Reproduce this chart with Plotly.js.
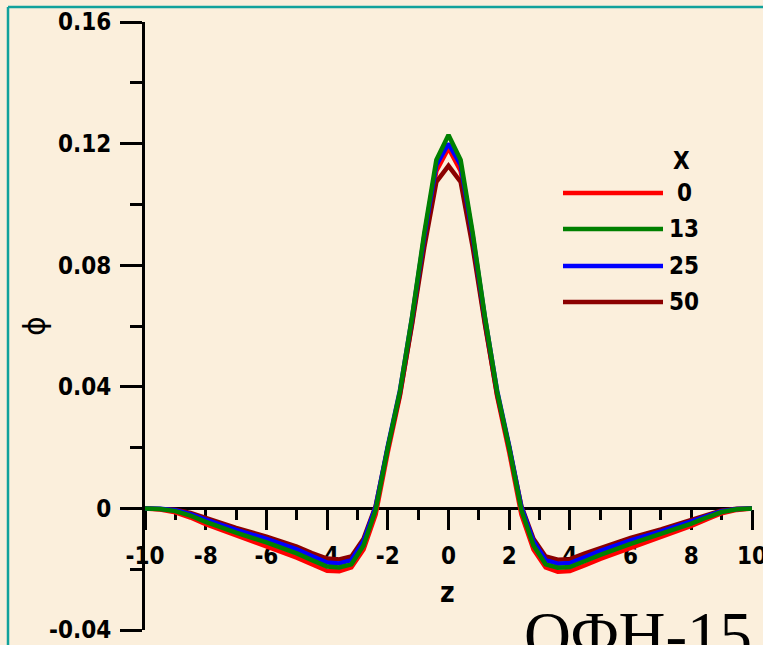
<!DOCTYPE html>
<html>
<head>
<meta charset="utf-8">
<script src="https://cdn.plot.ly/plotly-3.0.1.min.js"></script>
<style>
html,body{margin:0;padding:0;background:#FBEFDC;}
#chart{width:763px;height:645px;}
</style>
</head>
<body>
<div id="chart"></div>
<script>
// ---- data ----
const z = [-10, -9.5, -9, -8.5, -8, -7, -6, -5, -4.5, -4, -3.6, -3.2, -2.8, -2.4, -2.0, -1.6, -1.2, -0.8, -0.4, 0,
           0.4, 0.8, 1.2, 1.6, 2.0, 2.4, 2.8, 3.2, 3.6, 4, 4.5, 5, 6, 7, 8, 8.5, 9, 9.5, 10];

const phiX0 = [0, -0.0004, -0.0013, -0.0030, -0.0052, -0.0090, -0.0125, -0.0162, -0.0185, -0.0205, -0.0207, -0.0194, -0.0135, -0.0020, 0.0185, 0.0370, 0.0612, 0.0880, 0.1110, 0.1185,
               0.1110, 0.0880, 0.0612, 0.0370, 0.0185, -0.0020, -0.0135, -0.0194, -0.0208, -0.0206, -0.0187, -0.0166, -0.0130, -0.0095, -0.0058, -0.0036, -0.0016, -0.0005, 0];
const phiX13 = [0, -0.0002, -0.0009, -0.0024, -0.0044, -0.0080, -0.0112, -0.0148, -0.0170, -0.0191, -0.0194, -0.0184, -0.0122, -0.0005, 0.0200, 0.0385, 0.0630, 0.0905, 0.1146, 0.1228,
                0.1146, 0.0905, 0.0630, 0.0385, 0.0200, -0.0005, -0.0122, -0.0184, -0.0195, -0.0193, -0.0173, -0.0153, -0.0117, -0.0085, -0.0050, -0.0030, -0.0012, -0.0003, 0];
const phiX25 = [0, -0.0001, -0.0006, -0.0019, -0.0037, -0.0071, -0.0100, -0.0135, -0.0157, -0.0178, -0.0181, -0.0170, -0.0108, 0.0005, 0.0205, 0.0388, 0.0628, 0.0895, 0.1130, 0.1200,
                0.1130, 0.0895, 0.0628, 0.0388, 0.0205, 0.0005, -0.0108, -0.0170, -0.0182, -0.0180, -0.0160, -0.0140, -0.0105, -0.0076, -0.0043, -0.0025, -0.0009, -0.0002, 0];
const phiX50 = [0, -0.0001, -0.0004, -0.0015, -0.0032, -0.0064, -0.0093, -0.0126, -0.0147, -0.0165, -0.0168, -0.0158, -0.0100, 0.0008, 0.0200, 0.0375, 0.0605, 0.0858, 0.1074, 0.1127,
                0.1074, 0.0858, 0.0605, 0.0375, 0.0200, 0.0008, -0.0100, -0.0158, -0.0169, -0.0167, -0.0148, -0.0130, -0.0097, -0.0069, -0.0038, -0.0021, -0.0007, -0.0001, 0];

const seriesNames = ['0', '13', '25', '50'];
const seriesValues = [phiX0, phiX13, phiX25, phiX50];
const seriesColors = ['#FF0000', '#008000', '#0000FF', '#8B0000'];
const drawOrder = [0, 3, 2, 1];   // red below, green on top

const xTickVals = [-10, -8, -6, -4, -2, 0, 2, 4, 6, 8, 10];
const xTickText = ['-10', '-8', '-6', '-4', '-2', '0', '2', '4', '6', '8', '10'];
const yTickVals = [-0.04, 0, 0.04, 0.08, 0.12, 0.16];
const yTickText = ['-0.04', '0', '0.04', '0.08', '0.12', '0.16'];

// ---- layout helpers (pixel -> paper) ----
const W = 763, H = 645;
const M = {l: 145, r: 11, t: 22, b: 15};
const PW = W - M.l - M.r, PH = H - M.t - M.b;
const px = v => (v - M.l) / PW;
const py = v => (H - M.b - v) / PH;

const tickFont = {family: 'Liberation Sans Narrow, DejaVu Sans Condensed, Roboto, Arial Narrow, sans-serif', size: 24, color: '#000', weight: 'bold'};

const traces = drawOrder.map(i => ({
  x: z, y: seriesValues[i], type: 'scatter', mode: 'lines', name: seriesNames[i],
  line: {color: seriesColors[i], width: 4.5}, showlegend: false, hoverinfo: 'skip'
}));

const shapes = [
  // teal frame
  {type: 'line', xref: 'paper', yref: 'paper', x0: px(8), x1: px(8), y0: py(7), y1: py(H + 5), line: {color: '#12A29C', width: 2.5}},
  {type: 'line', xref: 'paper', yref: 'paper', x0: px(8), x1: px(W + 5), y0: py(7), y1: py(7), line: {color: '#12A29C', width: 2.5}}
];
const legendY = [193, 229, 266, 302];
const annotations = [
  {text: 'X', xref: 'paper', yref: 'paper', x: px(681), y: py(161), xanchor: 'center', yanchor: 'middle', showarrow: false, font: tickFont},
  {text: 'z', xref: 'paper', yref: 'paper', x: px(447), y: py(592), xanchor: 'center', yanchor: 'middle', showarrow: false,
   font: {family: tickFont.family, size: 28, color: '#000', weight: 'bold'}},
  {text: 'ϕ', xref: 'paper', yref: 'paper', x: px(34), y: py(326), xanchor: 'center', yanchor: 'middle', showarrow: false, textangle: -90,
   font: {family: 'DejaVu Sans, sans-serif', size: 30, color: '#000'}},
  {text: 'ΟΦΗ-15', xref: 'paper', yref: 'paper', x: px(754), y: py(597), xanchor: 'right', yanchor: 'top', showarrow: false,
   font: {family: 'Liberation Serif, DejaVu Serif, serif', size: 65, color: '#000'}}
];
seriesNames.forEach((n, i) => {
  shapes.push({type: 'line', xref: 'paper', yref: 'paper', x0: px(563), x1: px(663), y0: py(legendY[i]), y1: py(legendY[i]),
               line: {color: seriesColors[i], width: 4.5}});
  annotations.push({text: n, xref: 'paper', yref: 'paper', x: px(684), y: py(legendY[i]), xanchor: 'center', yanchor: 'middle',
                    showarrow: false, font: tickFont});
});

const layout = {
  width: W, height: H,
  margin: M,
  paper_bgcolor: '#FBEFDC', plot_bgcolor: 'rgba(0,0,0,0)',
  showlegend: false,
  xaxis: {
    range: [-10, 10], anchor: 'free', position: 0.2, layer: 'below traces',
    showgrid: false, zeroline: false, showline: true, linecolor: '#000', linewidth: 3,
    ticks: 'outside', ticklen: 20, tickwidth: 3, tickcolor: '#000',
    tickmode: 'array', tickvals: xTickVals, ticktext: xTickText, tickfont: tickFont, ticklabelstandoff: 5,
    ticklabeloverflow: 'allow',
    minor: {dtick: 1, ticks: 'outside', ticklen: 10, tickwidth: 3, tickcolor: '#000', showgrid: false}
  },
  yaxis: {
    range: [-0.04, 0.16], layer: 'below traces',
    showgrid: false, zeroline: false, showline: true, linecolor: '#000', linewidth: 3,
    ticks: 'outside', ticklen: 22, tickwidth: 3, tickcolor: '#000',
    tickmode: 'array', tickvals: yTickVals, ticktext: yTickText, tickfont: tickFont, ticklabelstandoff: 4,
    ticklabeloverflow: 'allow',
    minor: {dtick: 0.02, tick0: 0, ticks: 'outside', ticklen: 12, tickwidth: 3, tickcolor: '#000', showgrid: false}
  },
  shapes: shapes,
  annotations: annotations
};

Plotly.newPlot('chart', traces, layout, {displayModeBar: false, staticPlot: true});
</script>
</body>
</html>
